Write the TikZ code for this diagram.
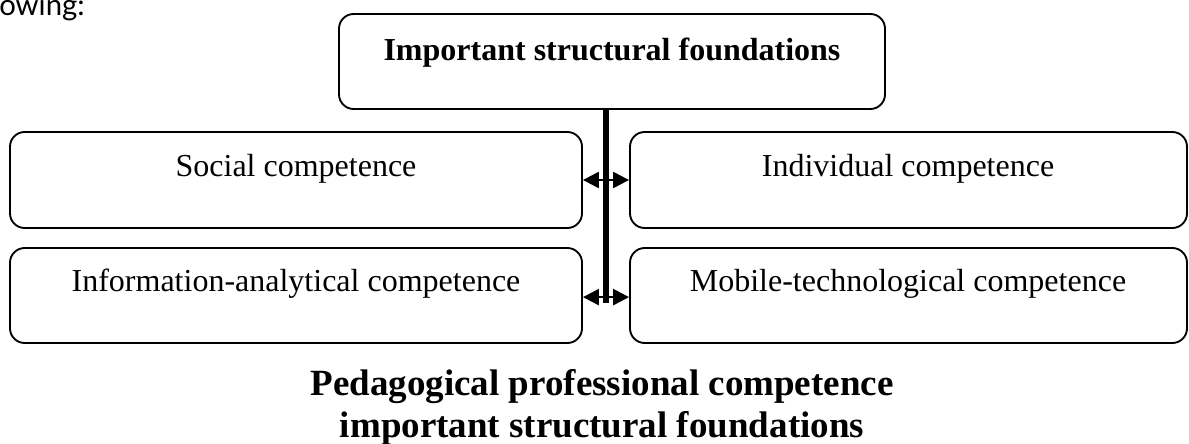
\documentclass[tikz,border=0pt]{standalone}
\usepackage{fontspec}
\setmainfont{Liberation Serif}
\newfontfamily\latofont{Lato}
\usetikzlibrary{arrows.meta,fit}

\begin{document}
\begin{tikzpicture}[x=0.75pt,y=-0.75pt,
  box/.style={draw=black, line width=1.4pt, rounded corners=11pt, inner sep=0pt},
  bodytext/.style={anchor=base, inner sep=0pt, font=\fontsize{24}{29}\selectfont},
  headtext/.style={anchor=base, inner sep=0pt, font=\fontsize{24}{29}\selectfont\bfseries},
  titletext/.style={anchor=base, inner sep=0pt, font=\fontsize{27.75}{32}\selectfont\bfseries},
  spine/.style={line width=4.5pt},
  link/.style={line width=1.8pt, {Triangle[length=12pt,width=12pt]}-{Triangle[length=12pt,width=12pt]}}
]
\useasboundingbox (0,0) rectangle (1189,443);

% running text above the chart
\node[anchor=base west, inner sep=0pt, font=\latofont\fontsize{22}{26}\selectfont] (lead) at (-1,15) {owing:};

% header box
\node[box, fit={(339,14) (885,109)}] (head) {};
\node[headtext] (headlbl) at (612,60) {Important structural foundations};

% competence boxes
\node[box, fit={(10,132) (582,228)}] (soc) {};
\node[box, fit={(630,132) (1187,228)}] (ind) {};
\node[box, fit={(10,248) (582,343)}] (inf) {};
\node[box, fit={(630,248) (1187,343)}] (mob) {};

\node[bodytext] (soclbl) at (296,176) {Social competence};
\node[bodytext] (indlbl) at (908,176) {Individual competence};
\node[bodytext] (inflbl) at (296,291) {Information-analytical competence};
\node[bodytext] (moblbl) at (908,291) {Mobile-technological competence};

% vertical spine from the header
\coordinate (spineend) at (606,303);
\draw[spine] (head.south -| spineend) -- (spineend);

% two-way links between the columns
\draw[link] (soc.east) -- (ind.west);
\draw[link] ([yshift=-1.2pt]inf.east) -- ([yshift=-1.2pt]mob.west);

% caption
\node[titletext] (cap1) at (602,395) {Pedagogical professional competence};
\node[titletext] (cap2) at (602,437) {important structural foundations};
\end{tikzpicture}
\end{document}
